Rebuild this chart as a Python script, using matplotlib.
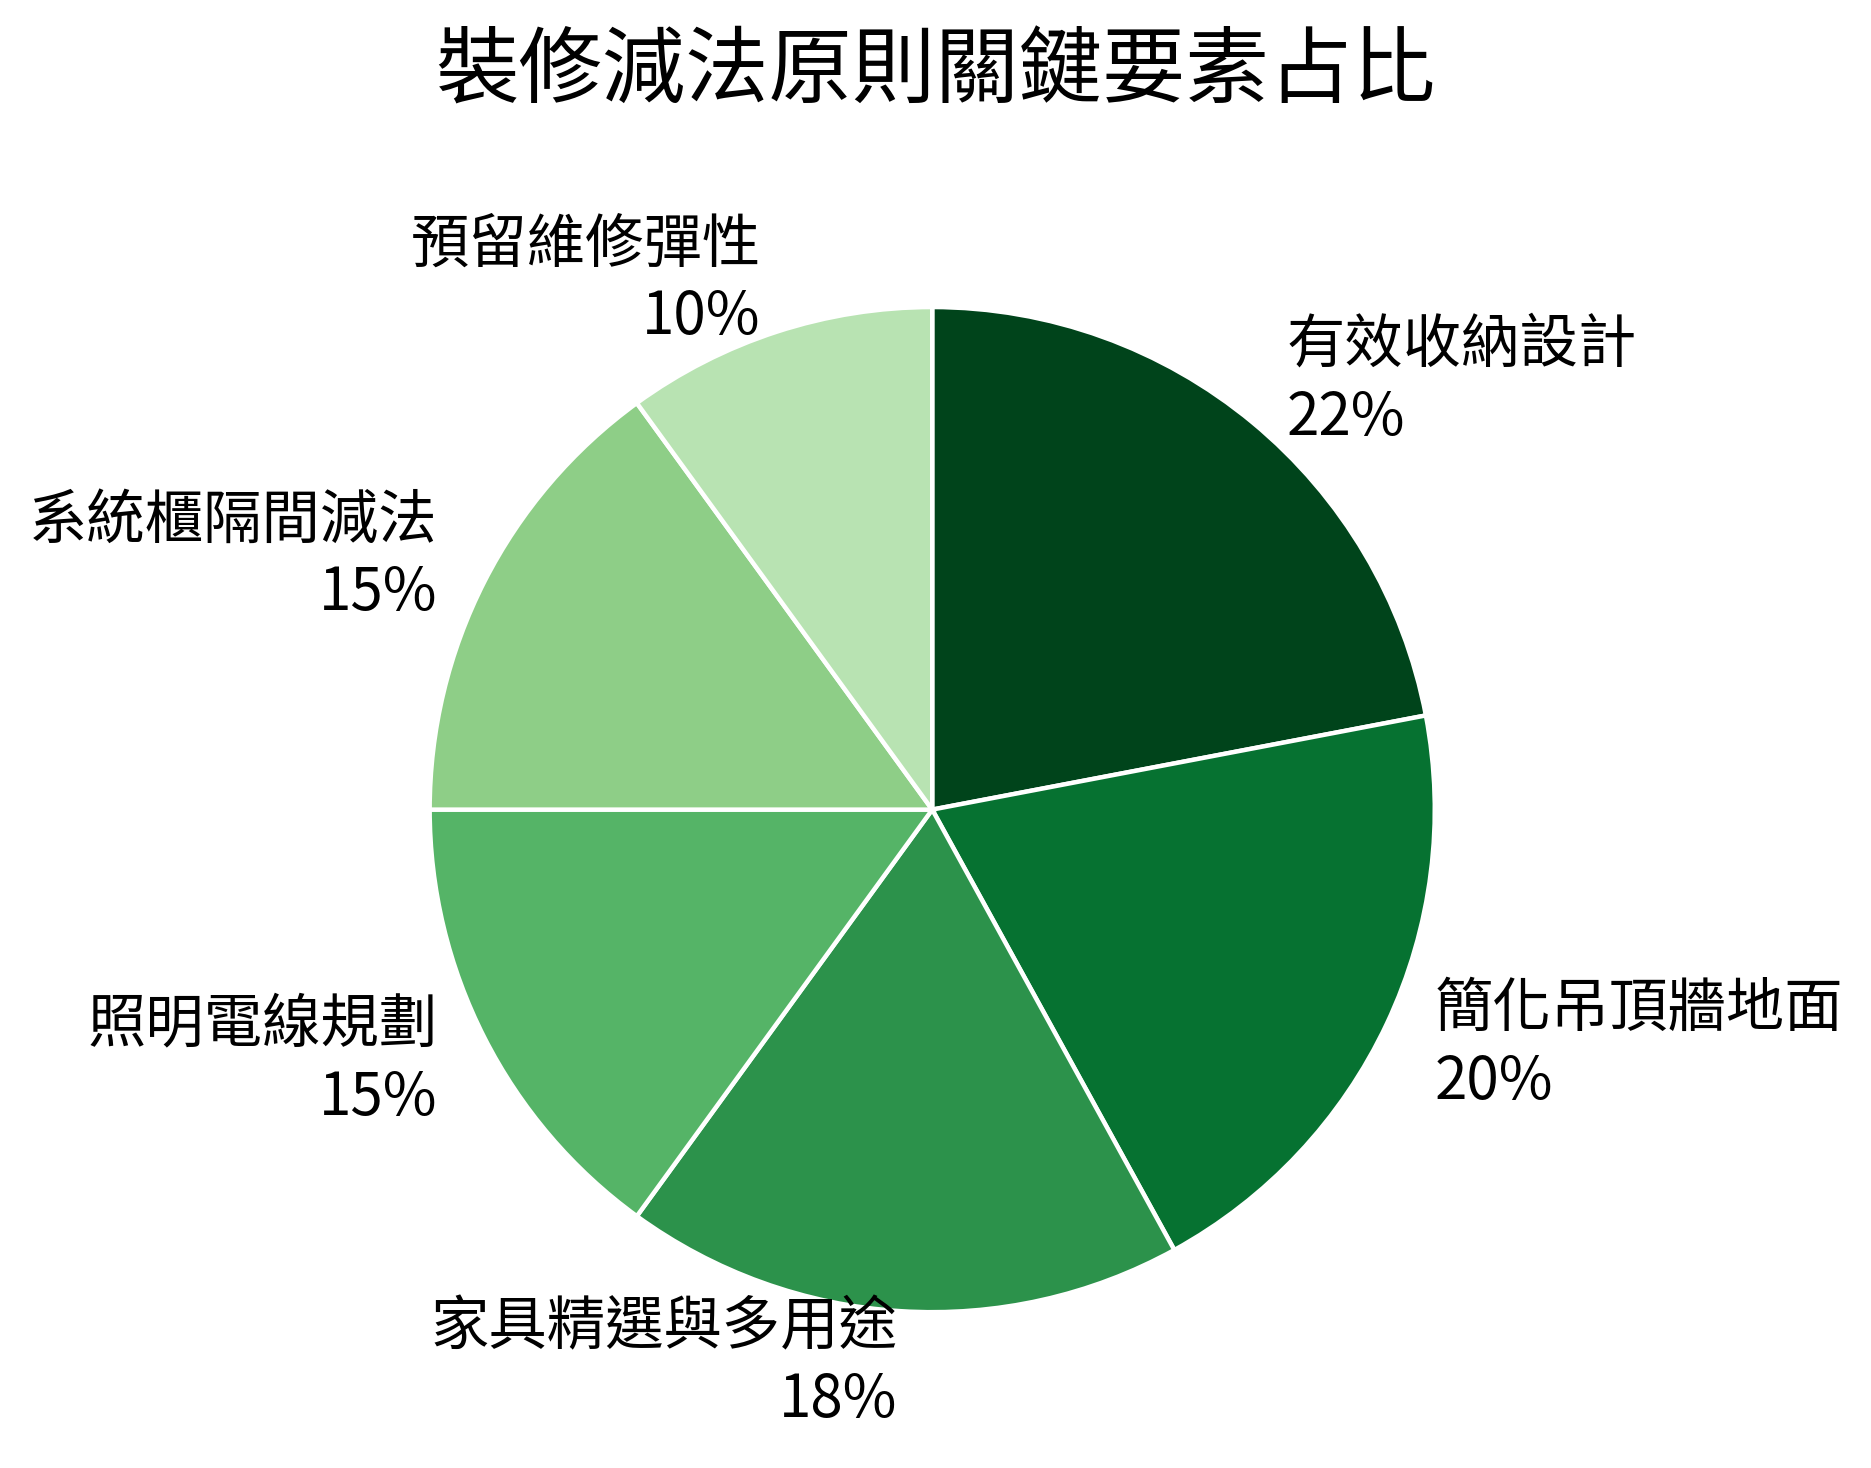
import matplotlib
matplotlib.use('Agg')
import matplotlib.pyplot as plt

# Data
labels = ['有效收納設計', '簡化吊頂牆地面', '家具精選與多用途', '照明電線規劃', '系統櫃隔間減法', '預留維修彈性']
values = [22, 20, 18, 15, 15, 10]
colors = ['#00441b', '#067231', '#2c924b', '#55b467', '#8ece87', '#b8e3b2']
title = '裝修減法原則關鍵要素占比'

plt.rcParams['font.family'] = ['Noto Sans CJK TC', 'DejaVu Sans']

fig = plt.figure(figsize=(9.355, 7.34), dpi=200)
ax = fig.add_axes([0.1625, 0.0205, 0.6715, 0.856])

text_labels = [f'{n}\n{v}%' for n, v in zip(labels, values)]
wedges, texts = ax.pie(values, labels=text_labels, colors=colors, startangle=90,
                       counterclock=False, labeldistance=1.105,
                       wedgeprops=dict(edgecolor='white', linewidth=1.6),
                       textprops=dict(fontsize=21, color='black'))
for t in texts:
    t.set_linespacing(1.25)

fig.text(0.5, 0.951, title, ha='center', va='center', fontsize=30)

fig.savefig('out.png', dpi=200)
